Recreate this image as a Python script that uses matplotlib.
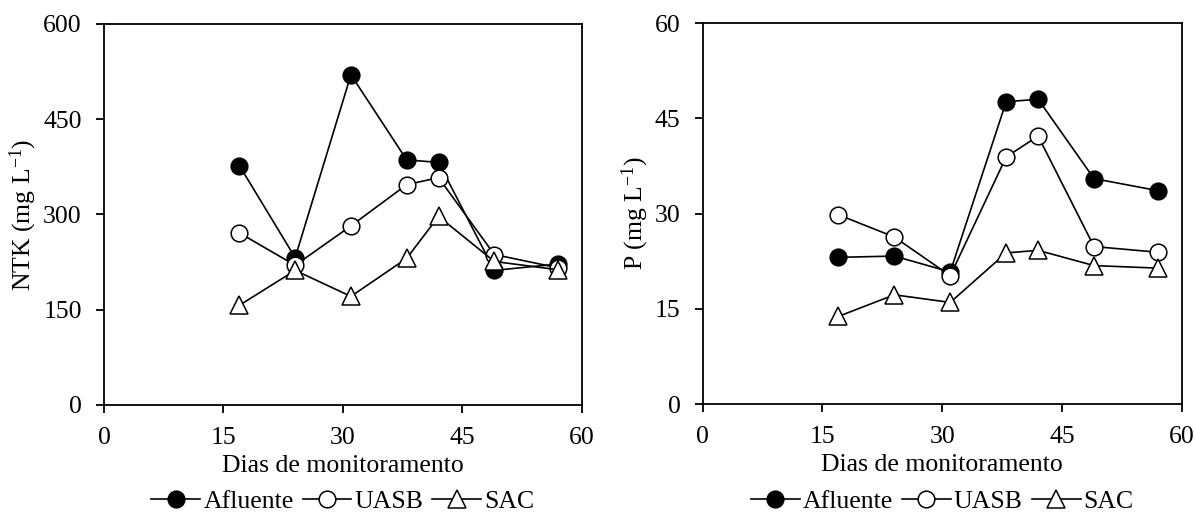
import matplotlib
matplotlib.use("Agg")
import matplotlib.pyplot as plt

plt.rcParams['font.family'] = ['Liberation Serif', 'DejaVu Serif']
plt.rcParams['mathtext.fontset'] = 'custom'
plt.rcParams['mathtext.rm'] = 'Liberation Serif'
plt.rcParams['mathtext.it'] = 'Liberation Serif'
plt.rcParams['font.size'] = 18.5

# days of monitoring
dias = [17, 24, 31, 38, 42, 49, 57]

# NTK (mg/L)
ntk_afluente = [377, 232, 520, 386, 382, 212, 222]
ntk_uasb = [271, 220, 282, 347, 358, 237, 216]
ntk_sac = [157, 212, 171, 231, 297, 226, 213]

# P (mg/L)
p_afluente = [23.1, 23.3, 20.8, 47.6, 48.0, 35.5, 33.6]
p_uasb = [29.8, 26.3, 20.2, 38.9, 42.2, 24.8, 23.9]
p_sac = [13.8, 17.2, 16.0, 23.8, 24.2, 21.8, 21.4]

ylabels = ['NTK (mg L$^{-1}$)', 'P (mg L$^{-1}$)']
ymax = [600, 60]

fig = plt.figure(figsize=(11.95, 5.15), dpi=100)
ax1 = fig.add_axes([0.087, 0.2136, 0.400, 0.7398])
ax2 = fig.add_axes([0.588, 0.2155, 0.401, 0.7398])

series = [(ntk_afluente, ntk_uasb, ntk_sac), (p_afluente, p_uasb, p_sac)]

for i, ax in enumerate([ax1, ax2]):
    af, ua, sa = series[i]
    ax.plot(dias, af, '-o', color='black', mfc='black', mec='black',
            ms=12, lw=1.2, mew=1.1, label='Afluente')
    ax.plot(dias, ua, '-o', color='black', mfc='white', mec='black',
            ms=12, lw=1.2, mew=1.1, label='UASB')
    ax.plot(dias, sa, '-^', color='black', mfc='white', mec='black',
            ms=13, lw=1.2, mew=1.1, label='SAC')

    ax.set_xlim(0, 60)
    ax.set_ylim(0, ymax[i])
    ax.set_xticks([0, 15, 30, 45, 60])
    ax.set_yticks([0, ymax[i] / 4, ymax[i] / 2, ymax[i] * 3 / 4, ymax[i]])
    ax.set_yticklabels([str(int(v)) for v in ax.get_yticks()])
    ax.tick_params(direction='out', length=6, width=1.3, top=False, right=False,
                   labelsize=18.5, pad=10)
    for s in ax.spines.values():
        s.set_linewidth(1.3)

    ax.set_xlabel('Dias de monitoramento', fontsize=18.5, labelpad=4)
    ax.set_ylabel(ylabels[i], fontsize=18.5, labelpad=3)

    pos = ax.get_position()
    ax.legend(loc='center', bbox_to_anchor=((pos.x0 + pos.x1) / 2, 0.027),
              bbox_transform=fig.transFigure, ncol=3, frameon=False,
              handlelength=1.9, handletextpad=0.12, columnspacing=0.35,
              fontsize=18.5, borderpad=0)

fig.savefig('out.png', dpi=100)
